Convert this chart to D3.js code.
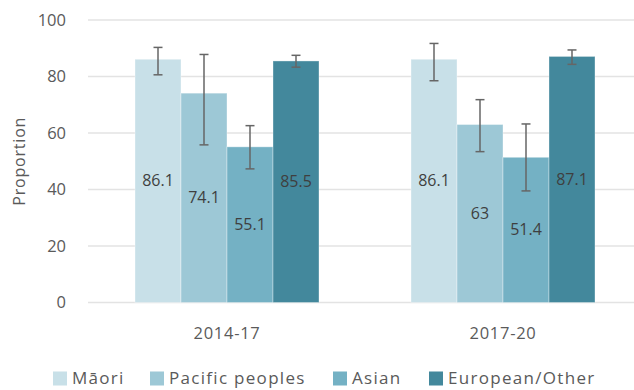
<!DOCTYPE html>
<html>
<head>
<meta charset="utf-8">
<script src="https://cdn.jsdelivr.net/npm/d3@7"></script>
<style>
  html, body { margin: 0; padding: 0; background: #ffffff; }
  svg { display: block; font-family: "Open Sans", "Noto Sans", sans-serif; }
</style>
</head>
<body>
<svg id="chart" width="634" height="390"></svg>
<script>
// Proportion by ethnic group, two survey periods, with 95% confidence intervals
const periods = ["2014-17", "2017-20"];
const groups = ["Māori", "Pacific peoples", "Asian", "European/Other"];
const colors = ["#c8e0e8", "#9dc8d6", "#74b1c4", "#43889c"];
const values = [
  [86.1, 74.1, 55.1, 85.5],
  [86.1, 63, 51.4, 87.1]
];
const lower = [
  [80.6, 55.8, 47.3, 83.3],
  [78.5, 53.4, 39.5, 84.3]
];
const upper = [
  [90.3, 87.8, 62.6, 87.5],
  [91.7, 71.8, 63.2, 89.4]
];
const yTicks = [0, 20, 40, 60, 80, 100];

const FONT = "'Open Sans', 'Noto Sans', sans-serif";
const TEXT_GREY = "#5a5a5a";

const svg = d3.select("#chart");
const margin = { left: 89, right: -7, top: 20, bottom: 87.5 };
const W = 634, H = 390;
const plotBottom = H - margin.bottom;

const x0 = d3.scaleBand().domain(periods)
  .range([margin.left, W - margin.right])
  .paddingInner(1 / 3).paddingOuter(1 / 6);
const x1 = d3.scaleBand().domain(groups).range([0, x0.bandwidth()]);
const y = d3.scaleLinear().domain([0, 100]).range([plotBottom, margin.top]);

// gridlines
svg.append("g").selectAll("line").data(yTicks).join("line")
  .attr("x1", 88).attr("x2", 634)
  .attr("y1", d => y(d)).attr("y2", d => y(d))
  .attr("stroke", "#e3e3e3").attr("stroke-width", 1.5);

// y axis labels
const yAxis = svg.append("g").attr("transform", "translate(66,0)")
  .call(d3.axisLeft(y).tickValues(yTicks).tickSize(0).tickPadding(0));
yAxis.select(".domain").remove();
yAxis.selectAll("text")
  .attr("font-size", 16.5).attr("fill", TEXT_GREY)
  .attr("font-family", FONT);

// y title
svg.append("text")
  .attr("transform", `translate(25,${(y(0) + y(100)) / 2}) rotate(-90)`)
  .attr("text-anchor", "middle")
  .attr("font-size", 16).attr("letter-spacing", 0.8).attr("fill", TEXT_GREY)
  .text("Proportion");

// x axis labels
const xAxis = svg.append("g").attr("transform", `translate(0,${plotBottom + 31})`)
  .call(d3.axisBottom(x0).tickSize(0).tickPadding(0));
xAxis.select(".domain").remove();
xAxis.selectAll("text")
  .attr("font-size", 16.5).attr("letter-spacing", 0.7).attr("fill", TEXT_GREY)
  .attr("font-family", FONT)
  .attr("dy", "0.35em");

// bars
const periodG = svg.append("g").selectAll("g").data(periods).join("g")
  .attr("transform", d => `translate(${x0(d)},0)`);

periodG.each(function (p, pi) {
  const g = d3.select(this);
  const rows = groups.map((name, gi) => ({
    name, gi, v: values[pi][gi], lo: lower[pi][gi], hi: upper[pi][gi]
  }));

  g.selectAll("rect").data(rows).join("rect")
    .attr("x", d => x1(d.name))
    .attr("width", x1.bandwidth())
    .attr("y", d => y(d.v))
    .attr("height", d => y(0) - y(d.v))
    .attr("fill", d => colors[d.gi])
    .attr("stroke", "rgba(255,255,255,0.35)").attr("stroke-width", 1);

  g.selectAll("text.val").data(rows).join("text")
    .attr("class", "val")
    .attr("x", d => x1(d.name) + x1.bandwidth() / 2)
    .attr("y", d => (y(d.v) + y(0)) / 2)
    .attr("dy", "0.35em")
    .attr("text-anchor", "middle")
    .attr("font-size", 16).attr("fill", "#3f3f3f")
    .text(d => d.v);

  const eb = g.selectAll("g.err").data(rows).join("g").attr("class", "err")
    .attr("stroke", "#666666").attr("stroke-width", 1.5);
  eb.append("line")
    .attr("x1", d => x1(d.name) + x1.bandwidth() / 2)
    .attr("x2", d => x1(d.name) + x1.bandwidth() / 2)
    .attr("y1", d => y(d.hi)).attr("y2", d => y(d.lo));
  [d => d.hi, d => d.lo].forEach(acc => {
    eb.append("line")
      .attr("x1", d => x1(d.name) + x1.bandwidth() / 2 - 4.5)
      .attr("x2", d => x1(d.name) + x1.bandwidth() / 2 + 4.5)
      .attr("y1", d => y(acc(d))).attr("y2", d => y(acc(d)));
  });
});

// legend
const legendX = [53, 150, 333, 429];
const legend = svg.append("g").selectAll("g").data(groups).join("g")
  .attr("transform", (d, i) => `translate(${legendX[i]},371.5)`);
legend.append("rect").attr("width", 14).attr("height", 14)
  .attr("fill", (d, i) => colors[i]);
legend.append("text").attr("x", 19).attr("y", 7).attr("dy", "0.35em")
  .attr("font-size", 17).attr("letter-spacing", 1.3).attr("fill", TEXT_GREY)
  .text(d => d);
</script>
</body>
</html>
